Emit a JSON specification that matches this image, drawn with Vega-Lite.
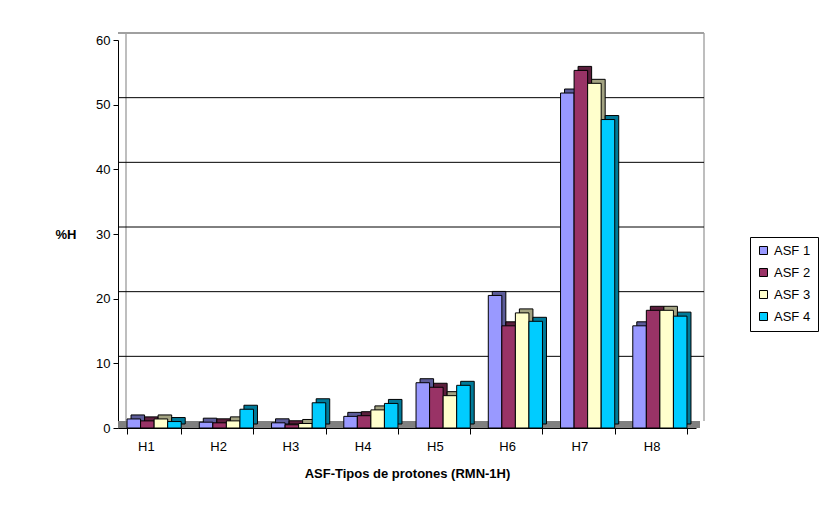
{
  "$schema": "https://vega.github.io/schema/vega-lite/v6.json",
  "autosize": {"type": "none"},
  "width": 578,
  "height": 388,
  "padding": {"left": 118, "top": 40, "right": 125, "bottom": 78},
  "background": "white",
  "config": {
    "view": {"stroke": null},
    "font": "Liberation Sans",
    "axis": {"labelFont": "Liberation Sans", "titleFont": "Liberation Sans", "labelColor": "black", "titleColor": "black", "domainColor": "black", "tickColor": "black"},
    "legend": {"labelFont": "Liberation Sans"}
  },
  "data": {"values": [
    {"H": "H1", "serie": "ASF 1", "v": 1.4}, {"H": "H1", "serie": "ASF 2", "v": 1.1}, {"H": "H1", "serie": "ASF 3", "v": 1.4}, {"H": "H1", "serie": "ASF 4", "v": 1.0},
    {"H": "H2", "serie": "ASF 1", "v": 0.9}, {"H": "H2", "serie": "ASF 2", "v": 0.8}, {"H": "H2", "serie": "ASF 3", "v": 1.1}, {"H": "H2", "serie": "ASF 4", "v": 2.9},
    {"H": "H3", "serie": "ASF 1", "v": 0.8}, {"H": "H3", "serie": "ASF 2", "v": 0.5}, {"H": "H3", "serie": "ASF 3", "v": 0.7}, {"H": "H3", "serie": "ASF 4", "v": 3.9},
    {"H": "H4", "serie": "ASF 1", "v": 1.8}, {"H": "H4", "serie": "ASF 2", "v": 1.9}, {"H": "H4", "serie": "ASF 3", "v": 2.8}, {"H": "H4", "serie": "ASF 4", "v": 3.8},
    {"H": "H5", "serie": "ASF 1", "v": 7.0}, {"H": "H5", "serie": "ASF 2", "v": 6.3}, {"H": "H5", "serie": "ASF 3", "v": 5.0}, {"H": "H5", "serie": "ASF 4", "v": 6.6},
    {"H": "H6", "serie": "ASF 1", "v": 20.5}, {"H": "H6", "serie": "ASF 2", "v": 15.8}, {"H": "H6", "serie": "ASF 3", "v": 17.8}, {"H": "H6", "serie": "ASF 4", "v": 16.5},
    {"H": "H7", "serie": "ASF 1", "v": 51.8}, {"H": "H7", "serie": "ASF 2", "v": 55.3}, {"H": "H7", "serie": "ASF 3", "v": 53.3}, {"H": "H7", "serie": "ASF 4", "v": 47.7},
    {"H": "H8", "serie": "ASF 1", "v": 15.8}, {"H": "H8", "serie": "ASF 2", "v": 18.2}, {"H": "H8", "serie": "ASF 3", "v": 18.2}, {"H": "H8", "serie": "ASF 4", "v": 17.3}
  ]},
  "layer": [
    {
      "data": {"values": [{"g": 10}, {"g": 20}, {"g": 30}, {"g": 40}, {"g": 50}]},
      "mark": {"type": "rule", "color": "black", "strokeWidth": 1, "xOffset": 8, "x2Offset": 8, "yOffset": -7, "y2Offset": -7},
      "encoding": {
        "y": {"field": "g", "type": "quantitative", "scale": {"domain": [0, 60], "nice": false},
          "axis": {"orient": "left", "offset": -15, "translate": -7, "labels": false, "ticks": false, "grid": false, "title": null, "domainColor": "#a8a8a8", "domainWidth": 1.5}}
      }
    },
    {
      "mark": {"type": "rule", "color": "#a0a0a0", "strokeWidth": 1.5, "xOffset": 8, "x2Offset": 8, "yOffset": -7, "y2Offset": -7},
      "encoding": {
        "y": {"datum": 60, "type": "quantitative", "axis": null}
      }
    },
    {
      "data": {"values": [{"g": 0}]},
      "mark": {"type": "rule", "color": "#808080", "strokeWidth": 7, "xOffset": 4, "x2Offset": 4, "yOffset": -3.5, "y2Offset": -3.5},
      "encoding": {
        "y": {"field": "g", "type": "quantitative",
          "axis": {"orient": "right", "offset": 15, "translate": -7, "labels": false, "ticks": false, "grid": false, "title": null, "domainColor": "#a8a8a8", "domainWidth": 1.5}}
      }
    },
    {
      "mark": {"type": "bar", "stroke": "black", "strokeWidth": 1, "yOffset": -4, "y2Offset": -4},
      "encoding": {
        "x": {"field": "H", "type": "nominal", "sort": null, "scale": {"paddingInner": 0.25, "paddingOuter": 0.125}},
        "xOffset": {"field": "serie", "type": "nominal", "scale": {"paddingInner": 0, "range": [4, 58.2]}},
        "y": {"field": "v", "type": "quantitative", "axis": null},
        "color": {"field": "serie", "type": "nominal", "legend": null, "scale": {"range": ["#5c5c99", "#5c1f3d", "#a3a382", "#007a99"]}}
      }
    },
    {
      "mark": {"type": "bar", "stroke": "black", "strokeWidth": 1},
      "encoding": {
        "x": {"field": "H", "type": "nominal", "sort": null,
          "axis": {"title": "ASF-Tipos de protones (RMN-1H)", "labelAngle": 0, "labelFontSize": 13, "titleFontSize": 13, "titleFontWeight": "bold", "tickBand": "extent", "tickSize": 6, "labelPadding": 12, "titlePadding": 14, "domainWidth": 1}},
        "xOffset": {"field": "serie", "type": "nominal", "scale": {"paddingInner": 0}},
        "y": {"field": "v", "type": "quantitative",
          "axis": {"orient": "left", "title": "%H", "values": [0, 10, 20, 30, 40, 50, 60], "grid": false, "labelFontSize": 13, "titleFontSize": 13, "titleFontWeight": "bold", "titleAngle": 0, "titleAlign": "right", "titleBaseline": "middle", "titleX": -42, "titleY": 194, "tickSize": 5, "labelPadding": 3}},
        "color": {"field": "serie", "type": "nominal",
          "scale": {"range": ["#9999ff", "#993366", "#ffffcc", "#00ccff"]},
          "legend": {"title": null, "orient": "none", "legendX": 632, "legendY": 197, "strokeColor": "black", "padding": 7, "symbolType": "square", "symbolSize": 64, "symbolStrokeColor": "black", "symbolStrokeWidth": 1, "labelFontSize": 13, "rowPadding": 8, "labelOffset": 4, "fillColor": "white"}}
      }
    }
  ],
  "resolve": {"scale": {"color": "independent", "xOffset": "independent"}, "axis": {"y": "independent"}}
}
